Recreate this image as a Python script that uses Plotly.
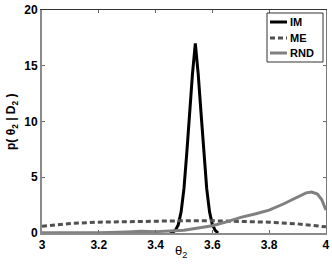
import plotly.graph_objects as go

im_x = [3.45, 3.46, 3.47, 3.48, 3.49, 3.50, 3.51, 3.52, 3.53, 3.54, 3.55, 3.56, 3.57, 3.58, 3.59, 3.60, 3.61, 3.62]
im_y = [0.0, 0.07, 0.24, 0.75, 1.9, 4.0, 7.2, 10.8, 14.3, 17.0, 14.3, 10.8, 7.2, 4.0, 1.9, 0.75, 0.24, 0.0]

me_x = [3.0, 3.05, 3.1, 3.2, 3.3, 3.4, 3.5, 3.6, 3.7, 3.8, 3.9, 4.0]
me_y = [0.6, 0.75, 0.85, 0.97, 1.03, 1.08, 1.1, 1.1, 1.05, 0.97, 0.82, 0.55]

rnd_x = [3.0, 3.1, 3.2, 3.3, 3.35, 3.4, 3.45, 3.5, 3.55, 3.6, 3.65, 3.7, 3.75, 3.8, 3.85, 3.9, 3.93, 3.95, 3.97, 3.985, 4.0]
rnd_y = [0.02, 0.02, 0.03, 0.1, 0.15, 0.12, 0.15, 0.24, 0.45, 0.65, 1.0, 1.4, 1.7, 2.05, 2.6, 3.25, 3.6, 3.68, 3.5, 3.0, 2.06]

x_ticks = [3, 3.2, 3.4, 3.6, 3.8, 4]
x_labels = ["3", "3.2", "3.4", "3.6", "3.8", "4"]
y_ticks = [0, 5, 10, 15, 20]

series_names = ["IM", "ME", "RND"]
series_styles = [dict(color="black", width=3),
                 dict(color="#505050", width=3, dash="5px,3px"),
                 dict(color="#808080", width=3)]

fig = go.Figure()
for name, xs, ys, st in zip(series_names, [im_x, me_x, rnd_x], [im_y, me_y, rnd_y], series_styles):
    fig.add_trace(go.Scatter(x=xs, y=ys, mode="lines", name=name, line=st, showlegend=False))

FAM = "Liberation Sans, Arial, sans-serif"

# plot area in pixels: x 42..326, y 10..233
L, R, T, B = 42, 326, 10, 233
def px(x):
    return (x - L) / (R - L)
def py(y):
    return (B - y) / (B - T)

shapes = []
annotations = []
# manual legend box
shapes.append(dict(type="rect", xref="paper", yref="paper",
                   x0=px(267), x1=px(323), y0=py(62), y1=py(13),
                   line=dict(color="#333333", width=1), fillcolor="white", layer="above"))
rows = [22, 38, 53]
for name, st, ry in zip(series_names, series_styles, rows):
    shapes.append(dict(type="line", xref="paper", yref="paper",
                       x0=px(270), x1=px(287), y0=py(ry), y1=py(ry),
                       line=dict(color=st["color"], width=3, dash=st.get("dash", "solid")),
                       layer="above"))
    annotations.append(dict(text=name, xref="paper", yref="paper",
                            x=px(288), y=py(ry), xanchor="left", yanchor="middle",
                            showarrow=False,
                            font=dict(size=11, family=FAM, color="black", weight="bold")))

annotations.append(dict(text="θ<sub>2</sub>", xref="paper", yref="paper",
                        x=px(181), y=py(251), xanchor="center", yanchor="middle",
                        showarrow=False, font=dict(size=13, family=FAM, color="black")))
annotations.append(dict(text="p( θ<sub>2</sub> | D<sub>2</sub> )", xref="paper", yref="paper",
                        x=px(12), y=py(122), xanchor="center", yanchor="middle",
                        textangle=-90, showarrow=False,
                        font=dict(size=12, family=FAM, color="black", weight="bold")))

xr = [3, 4.0002]
yr = [0, 20]
fig.update_layout(
    width=332, height=265,
    margin=dict(l=L, r=332 - R, t=T, b=265 - B),
    plot_bgcolor="white", paper_bgcolor="white",
    font=dict(family=FAM, color="black"),
    showlegend=False,
    shapes=shapes, annotations=annotations,
    xaxis=dict(range=xr, tickvals=x_ticks, ticktext=x_labels,
               ticks="inside", ticklen=3, tickcolor="#666666",
               showline=True, linecolor="#8a8a8a", linewidth=2,
               showgrid=False, zeroline=False, automargin=False,
               tickfont=dict(size=12, weight="bold")),
    yaxis=dict(range=yr, tickvals=y_ticks,
               ticks="inside", ticklen=3, tickcolor="#666666",
               showline=True, linecolor="#8a8a8a", linewidth=2,
               showgrid=False, zeroline=False, automargin=False,
               tickfont=dict(size=12, weight="bold")),
    xaxis2=dict(range=xr, tickvals=x_ticks, showticklabels=False, overlaying="x", side="top",
                ticks="inside", ticklen=3, tickcolor="#666666",
                showline=True, linecolor="#333333", linewidth=1,
                showgrid=False, zeroline=False, automargin=False),
    yaxis2=dict(range=yr, tickvals=y_ticks, showticklabels=False, overlaying="y", side="right",
                ticks="inside", ticklen=3, tickcolor="#666666",
                showline=True, linecolor="#777777", linewidth=1,
                showgrid=False, zeroline=False, automargin=False),
)
# invisible anchor trace so the top/right frame axes are drawn
fig.add_trace(go.Scatter(x=[], y=[], xaxis="x2", yaxis="y2", showlegend=False))

fig.write_html("out.html",
               config={"displayModeBar": False, "staticPlot": True},
               post_script="document.body.style.margin='0';document.body.style.overflow='hidden';")
